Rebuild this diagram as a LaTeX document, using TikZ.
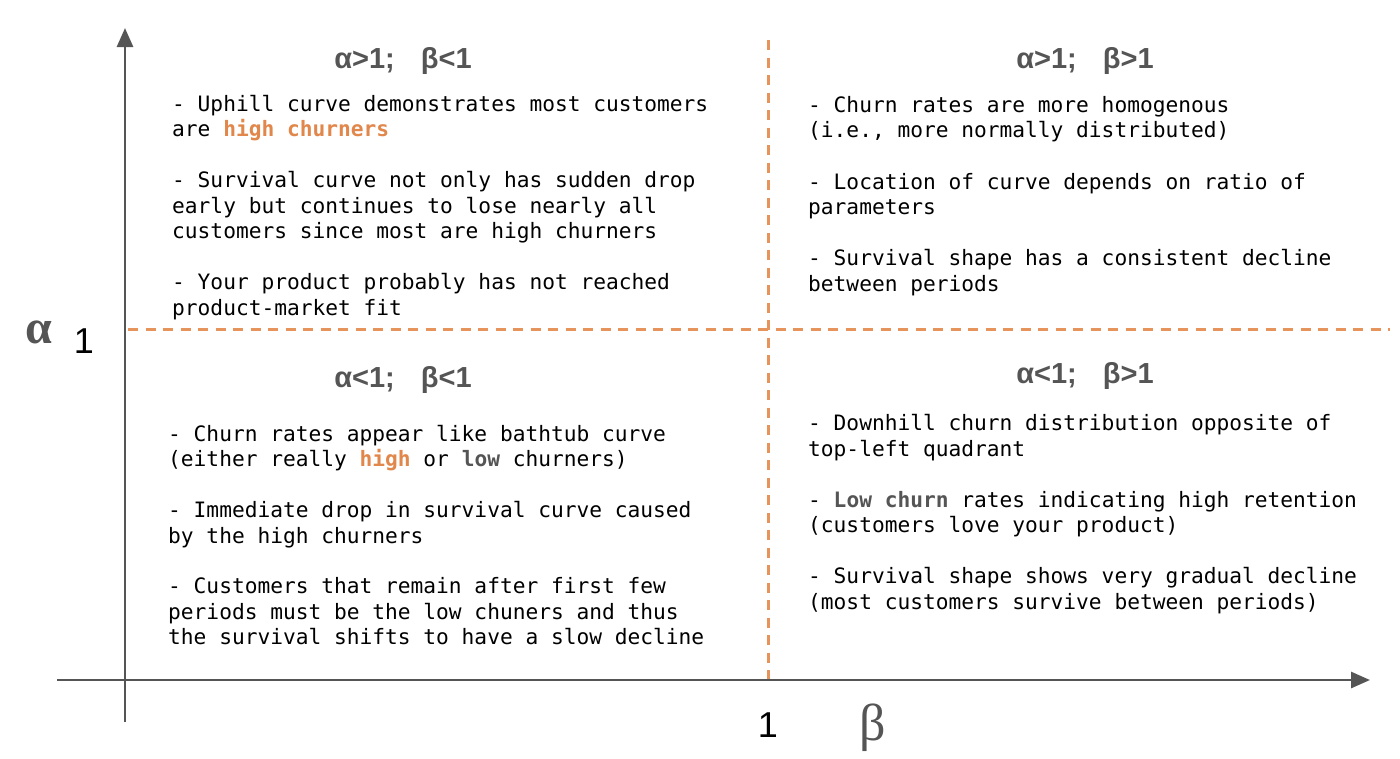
\documentclass[tikz,border=0pt]{standalone}
\usepackage{fontspec}
\setmainfont{Liberation Sans}
\setmonofont{DejaVu Sans Mono}
\newfontfamily\greekserif{Liberation Serif}
\usetikzlibrary{arrows.meta}
\definecolor{axisgray}{RGB}{85,85,85}
\definecolor{dashorange}{RGB}{230,148,92}
\definecolor{hlorange}{RGB}{225,135,75}
\newcommand\hlo[1]{\textbf{\textcolor{hlorange}{#1}}}
\newcommand\hlg[1]{\textbf{\textcolor{axisgray}{#1}}}
\begin{document}
\begin{tikzpicture}[x=1pt,y=-1pt,
  txt/.style={anchor=base west, inner sep=0pt, font=\ttfamily\fontsize{21.2}{25}\selectfont, text=black},
  hdr/.style={anchor=base, inner sep=0pt, font=\bfseries\fontsize{29}{32}\selectfont, text=axisgray},
  axisline/.style={draw=axisgray, line width=2.8pt, -{Triangle[length=19pt,width=16pt]}},
  divider/.style={draw=dashorange, line width=3pt, dash pattern=on 10pt off 7.5pt},
  onelabel/.style={anchor=base, inner sep=0pt, font=\fontsize{36}{40}\selectfont, text=black},
]
\useasboundingbox (0,0) rectangle (1400,758);

% axes
\coordinate (yaxisstart) at (125,722);
\coordinate (yaxisend) at (125,28);
\coordinate (xaxisstart) at (57,680);
\coordinate (xaxisend) at (1370,680);
\coordinate (hdivstart) at (128,329);
\coordinate (hdivend) at (1390,329);
\coordinate (vdivstart) at (768,40);
\coordinate (vdivend) at (768,680);

\draw[divider] (hdivstart) -- (hdivend);
\draw[divider] (vdivstart) -- (vdivend);
\draw[axisline] (yaxisstart) -- (yaxisend);
\draw[axisline] (xaxisstart) -- (xaxisend);

% axis labels
\node[anchor=base, inner sep=0pt, font=\greekserif\bfseries\fontsize{48}{50}\selectfont, text=axisgray] (alphalab) at (39,343) {α};
\node[onelabel] (alphaone) at (84,353) {1};
\node[onelabel] (betaone) at (768,737) {1};
\node[anchor=base, inner sep=0pt, font=\greekserif\fontsize{52}{56}\selectfont, text=axisgray] (betalab) at (873,740) {β};

% headers
\node[hdr] (htl) at (403,68) {α>1;\hspace{0.9em}β<1};
\node[hdr] (htr) at (1085,68) {α>1;\hspace{0.9em}β>1};
\node[hdr] (hbl) at (403,387) {α<1;\hspace{0.9em}β<1};
\node[hdr] (hbr) at (1085,383) {α<1;\hspace{0.9em}β>1};

% top-left
\node[txt] (tl1) at (172,111) {- Uphill curve demonstrates most customers};
\node[txt] (tl2) at (172,136) {are \hlo{high churners}};
\node[txt] (tl3) at (172,187) {- Survival curve not only has sudden drop};
\node[txt] (tl4) at (172,213) {early but continues to lose nearly all};
\node[txt] (tl5) at (172,238) {customers since most are high churners};
\node[txt] (tl6) at (172,289) {- Your product probably has not reached};
\node[txt] (tl7) at (172,315) {product-market fit};

% top-right
\node[txt] (tr1) at (808,112) {- Churn rates are more homogenous};
\node[txt] (tr2) at (808,137) {(i.e., more normally distributed)};
\node[txt] (tr3) at (808,189) {- Location of curve depends on ratio of};
\node[txt] (tr4) at (808,214) {parameters};
\node[txt] (tr5) at (808,265) {- Survival shape has a consistent decline};
\node[txt] (tr6) at (808,291) {between periods};

% bottom-left
\node[txt] (bl1) at (168,441) {- Churn rates appear like bathtub curve};
\node[txt] (bl2) at (168,466) {(either really \hlo{high} or \hlg{low} churners)};
\node[txt] (bl3) at (168,517) {- Immediate drop in survival curve caused};
\node[txt] (bl4) at (168,543) {by the high churners};
\node[txt] (bl5) at (168,593) {- Customers that remain after first few};
\node[txt] (bl6) at (168,619) {periods must be the low chuners and thus};
\node[txt] (bl7) at (168,644) {the survival shifts to have a slow decline};

% bottom-right
\node[txt] (br1) at (808,430) {- Downhill churn distribution opposite of};
\node[txt] (br2) at (808,456) {top-left quadrant};
\node[txt] (br3) at (808,507) {- \hlg{Low churn} rates indicating high retention};
\node[txt] (br4) at (808,532) {(customers love your product)};
\node[txt] (br5) at (808,583) {- Survival shape shows very gradual decline};
\node[txt] (br6) at (808,609) {(most customers survive between periods)};
\end{tikzpicture}
\end{document}
